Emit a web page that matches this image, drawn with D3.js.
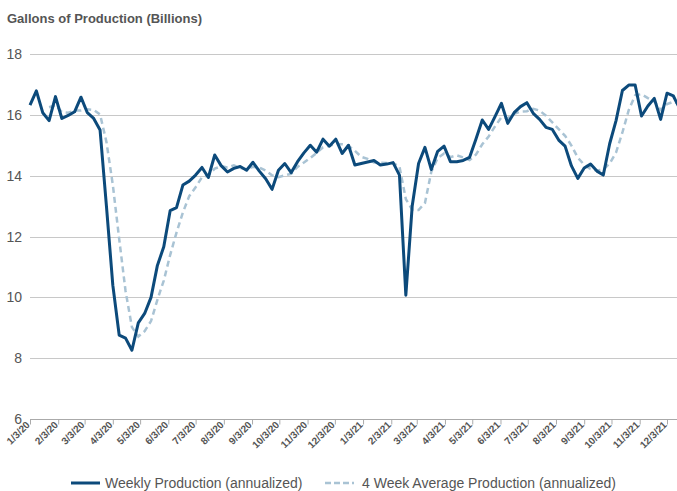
<!DOCTYPE html>
<html>
<head>
    <script src="https://d3js.org/d3.v7.min.js"></script>
    <style>
        body { margin: 0; background: #fff; font-family: "Liberation Sans", Arial, sans-serif; }
        svg { display: block; }
        .grid line { stroke: #c8c8c8; stroke-width: 1px; }
        .ylab { fill: #555; font-size: 14px; }
        .xlab { fill: #555; font-size: 10px; font-weight: bold; font-family: "Liberation Sans Narrow", "Arial Narrow", sans-serif; }
        .title { fill: #555; font-size: 13px; font-weight: bold; }
        .legend text { fill: #555; font-size: 14px; }
    </style>
</head>
<body>
    <svg width="677" height="491"></svg>
    <script>
        // first week of the weekly series, one point every 7 days
        const startDate = "1/3/20";

        // weekly production (annualized), billions of gallons
        const weekly = [16.32, 16.79, 16.07, 15.81, 16.60, 15.88, 15.98, 16.10, 16.58, 16.07, 15.88, 15.50,
            13.00, 10.40, 8.76, 8.66, 8.26, 9.16, 9.47, 10.00, 11.05, 11.66, 12.85, 12.95,
            13.69, 13.82, 14.02, 14.27, 13.94, 14.68, 14.33, 14.12, 14.24, 14.30, 14.18, 14.44,
            14.15, 13.90, 13.55, 14.18, 14.40, 14.10, 14.46, 14.75, 15.00, 14.77, 15.20, 14.97,
            15.20, 14.73, 15.00, 14.35, 14.40, 14.45, 14.50, 14.35, 14.38, 14.43, 14.02, 10.07,
            13.00, 14.40, 14.93, 14.20, 14.80, 14.97, 14.46, 14.46, 14.50, 14.60, 15.20, 15.83,
            15.52, 15.94, 16.38, 15.72, 16.07, 16.27, 16.40, 16.05, 15.85, 15.59, 15.52, 15.17,
            14.97, 14.32, 13.91, 14.25, 14.38, 14.15, 14.02, 15.05, 15.81, 16.80, 16.98, 16.98,
            15.96, 16.29, 16.54, 15.85, 16.71, 16.62, 16.20];

        // 4 week average production (annualized), starts at the 4th week
        const avg4 = [null, null, null, 16.25, 16.32, 16.09, 16.07, 16.14, 16.14, 16.18, 16.16, 16.01,
            15.11, 13.70, 11.92, 10.21, 9.02, 8.71, 8.89, 9.22, 9.92, 10.55, 11.39, 12.13,
            12.79, 13.33, 13.62, 13.95, 14.01, 14.23, 14.31, 14.27, 14.34, 14.25, 14.21, 14.29,
            14.27, 14.17, 14.01, 13.95, 14.01, 14.06, 14.29, 14.43, 14.58, 14.75, 14.93, 14.99,
            15.04, 15.03, 14.98, 14.82, 14.62, 14.55, 14.43, 14.43, 14.42, 14.42, 14.30, 13.23,
            12.88, 12.87, 13.10, 14.13, 14.58, 14.73, 14.61, 14.67, 14.60, 14.51, 14.69, 15.03,
            15.29, 15.62, 15.92, 15.89, 16.03, 16.11, 16.12, 16.20, 16.14, 15.97, 15.75, 15.53,
            15.31, 14.99, 14.59, 14.36, 14.22, 14.17, 14.20, 14.40, 14.76, 15.42, 16.16, 16.64,
            16.68, 16.55, 16.44, 16.16, 16.35, 16.43, 16.35];

        const xTickLabels = ["1/3/20", "2/3/20", "3/3/20", "4/3/20", "5/3/20", "6/3/20", "7/3/20", "8/3/20",
            "9/3/20", "10/3/20", "11/3/20", "12/3/20", "1/3/21", "2/3/21", "3/3/21", "4/3/21", "5/3/21",
            "6/3/21", "7/3/21", "8/3/21", "9/3/21", "10/3/21", "11/3/21", "12/3/21"];
        const yTicks = [6, 8, 10, 12, 14, 16, 18];

        const seriesNames = ["Weekly Production (annualized)", "4 Week Average Production (annualized)"];

        const parse = d3.timeParse("%m/%d/%y");
        const t0 = parse(startDate);
        const dates = weekly.map((_, i) => d3.timeDay.offset(t0, i * 7));
        const tickDates = xTickLabels.map(parse);

        const svg = d3.select("svg");
        const W = 677;

        const x = d3.scaleTime()
            .domain([tickDates[0], tickDates[tickDates.length - 1]])
            .range([30, 667]);
        const y = d3.scaleLinear().domain([6, 18]).range([419, 54]);

        // title
        svg.append("text").attr("class", "title")
            .attr("x", 7).attr("y", 23)
            .text("Gallons of Production (Billions)");

        // horizontal grid
        svg.append("g").attr("class", "grid")
            .selectAll("line").data(yTicks.filter(d => d > 6)).enter().append("line")
            .attr("x1", 30).attr("x2", W)
            .attr("y1", d => Math.round(y(d)) + 0.5).attr("y2", d => Math.round(y(d)) + 0.5);

        // y labels
        svg.append("g").selectAll("text").data(yTicks).enter().append("text")
            .attr("class", "ylab")
            .attr("x", 22).attr("y", d => y(d))
            .attr("dy", "0.36em")
            .attr("text-anchor", "end")
            .text(d => d);

        // x axis
        const xAxis = d3.axisBottom(x)
            .tickValues(tickDates)
            .tickSize(5)
            .tickFormat((d, i) => xTickLabels[i]);
        const gx = svg.append("g")
            .attr("transform", "translate(0," + (Math.round(y(6)) + 0.5) + ")")
            .call(xAxis);
        gx.select(".domain").attr("d", "M30,0H" + W).attr("stroke", "#aaa");
        gx.selectAll(".tick line").attr("stroke", "#aaa");
        gx.selectAll(".tick text")
            .attr("class", "xlab")
            .attr("text-anchor", "end")
            .attr("dy", null)
            .attr("y", 0)
            .attr("transform", "translate(0,6) rotate(-45)");

        // lines
        const line = d3.line()
            .defined(d => d.v != null)
            .x(d => x(d.date))
            .y(d => y(d.v));

        svg.append("path")
            .datum(avg4.map((v, i) => ({ date: dates[i], v: v })))
            .attr("fill", "none")
            .attr("stroke", "#a9c3d4")
            .attr("stroke-width", 2.5)
            .attr("stroke-dasharray", "6,4")
            .attr("d", line);

        svg.append("path")
            .datum(weekly.map((v, i) => ({ date: dates[i], v: v })))
            .attr("fill", "none")
            .attr("stroke", "#0c4a7b")
            .attr("stroke-width", 3)
            .attr("stroke-linejoin", "round")
            .attr("d", line);

        // legend
        const lg = svg.append("g").attr("class", "legend");
        lg.append("line").attr("x1", 71).attr("x2", 100).attr("y1", 483).attr("y2", 483)
            .attr("stroke", "#0c4a7b").attr("stroke-width", 3);
        lg.append("text").attr("x", 105).attr("y", 488).text(seriesNames[0]);
        lg.append("line").attr("x1", 325).attr("x2", 354).attr("y1", 483).attr("y2", 483)
            .attr("stroke", "#a9c3d4").attr("stroke-width", 2.5).attr("stroke-dasharray", "6,3");
        lg.append("text").attr("x", 362).attr("y", 488).text(seriesNames[1]);
    </script>
</body>
</html>
